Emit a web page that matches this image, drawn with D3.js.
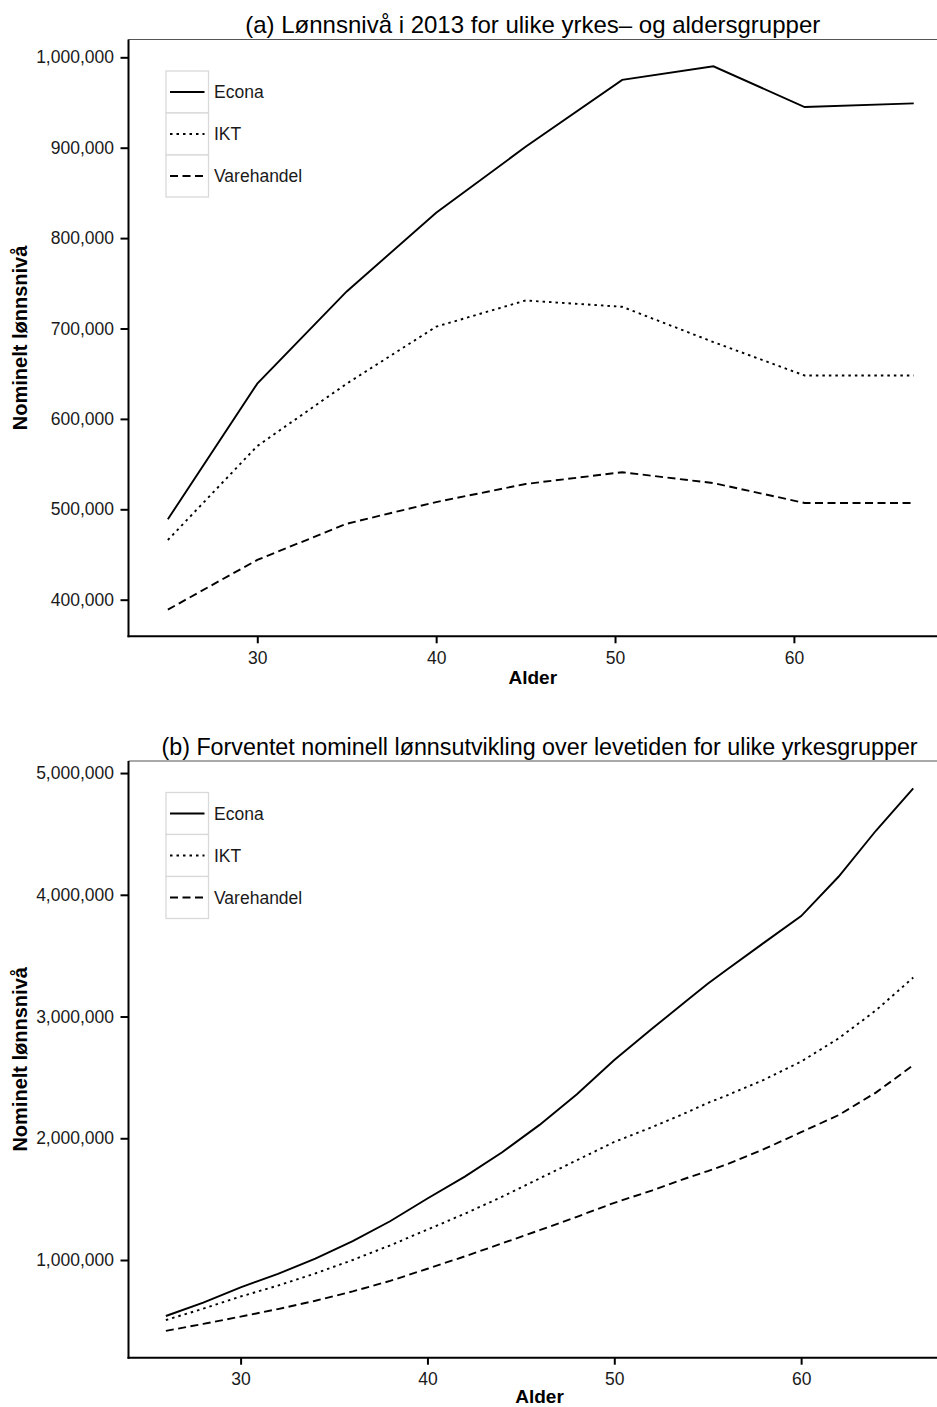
<!DOCTYPE html>
<html>
<head>
<meta charset="utf-8">
<script src="https://cdn.jsdelivr.net/npm/d3@7"></script>
<style>
  html, body { margin: 0; padding: 0; background: #fff; }
  svg { display: block; font-family: "Liberation Sans", Arial, sans-serif; }
</style>
</head>
<body>
<svg id="chart" width="937" height="1407"></svg>
<script>
// Series names and line types
const groups = ["Econa", "IKT", "Varehandel"];
const dashes = { "Econa": null, "IKT": "2.5,4", "Varehandel": "8,4.5" };

// (a) Wage level in 2013 by age group
const agesA = [25, 30, 35, 40, 45, 50.4, 55.5, 60.6, 66.7];
const econaA = [489000, 639000, 741000, 828000, 901000, 975000, 990000, 945000, 949000];
const iktA = [466000, 570000, 639000, 702000, 731000, 724000, 685000, 648000, 648000];
const handelA = [389000, 444000, 484000, 508000, 528000, 541000, 529000, 507000, 507000];

// (b) Expected nominal wage path over the working life
const agesB = [26, 28, 30, 32, 34, 36, 38, 40, 42, 44, 46, 48, 50, 52, 54, 55, 56, 58, 60, 62, 64, 66];
const econaB = [540000, 650000, 776000, 886000, 1011000, 1155000, 1318000, 1505000, 1685000, 1885000, 2110000, 2362000, 2643000, 2897000, 3146000, 3270000, 3383000, 3605000, 3825000, 4148000, 4526000, 4874000];
const iktB = [507000, 600000, 700000, 790000, 890000, 1000000, 1120000, 1250000, 1380000, 1520000, 1670000, 1820000, 1970000, 2090000, 2220000, 2290000, 2350000, 2480000, 2630000, 2820000, 3050000, 3320000];
const handelB = [418000, 475000, 535000, 597000, 665000, 742000, 828000, 928000, 1030000, 1137000, 1245000, 1355000, 1470000, 1570000, 1680000, 1730000, 1785000, 1910000, 2050000, 2190000, 2375000, 2600000];

// Axis ticks
const xTicks = [30, 40, 50, 60];
const yTicksA = [400000, 500000, 600000, 700000, 800000, 900000, 1000000];
const yTicksB = [1000000, 2000000, 3000000, 4000000, 5000000];

const titleA = "(a) Lønnsnivå i 2013 for ulike yrkes\u2013 og aldersgrupper";
const titleB = "(b) Forventet nominell lønnsutvikling over levetiden for ulike yrkesgrupper";
const xLabel = "Alder";
const yLabel = "Nominelt lønnsnivå";

const svg = d3.select("#chart");
const fmt = d3.format(",");

function panel(cfg) {
  const { top, bottom, left, right, xDomain, xRange, yDomain, ages, series, yTicks, title, titleY } = cfg;
  const g = svg.append("g");
  const x = d3.scaleLinear().domain(xDomain).range(xRange);
  const y = d3.scaleLinear().domain(yDomain).range([bottom, top]);
  const cx = (xRange[0] + xRange[1]) / 2;

  // panel frame top edge
  g.append("line").attr("x1", left).attr("x2", right).attr("y1", top).attr("y2", top)
    .attr("stroke", "#555").attr("stroke-width", 1.2);

  // axes
  const yAxis = g.append("g").attr("transform", `translate(${left},0)`)
    .call(d3.axisLeft(y).tickValues(yTicks).tickFormat(fmt).tickSize(8).tickPadding(6.5));
  const xAxis = g.append("g").attr("transform", `translate(0,${bottom})`)
    .call(d3.axisBottom(x).tickValues(xTicks).tickSize(7).tickPadding(4));
  [yAxis, xAxis].forEach(a => {
    a.select(".domain").remove();
    a.selectAll(".tick line").attr("stroke", "#000").attr("stroke-width", 2);
    a.selectAll(".tick text").attr("fill", "#1a1a1a").attr("font-size", 17.5)
      .attr("font-family", "Liberation Sans, Arial, sans-serif");
  });
  xAxis.selectAll(".tick text").attr("dy", "0.95em");
  g.append("line").attr("x1", left).attr("x2", left).attr("y1", top).attr("y2", bottom + 1)
    .attr("stroke", "#000").attr("stroke-width", 2);
  g.append("line").attr("x1", left - 1).attr("x2", right).attr("y1", bottom).attr("y2", bottom)
    .attr("stroke", "#000").attr("stroke-width", 2);

  // series lines
  const line = d3.line().x(d => x(d[0])).y(d => y(d[1]));
  groups.forEach((name, i) => {
    const pts = ages.map((a, j) => [a, series[i][j]]);
    g.append("path").datum(pts).attr("d", line)
      .attr("fill", "none").attr("stroke", "#000").attr("stroke-width", 1.9)
      .attr("stroke-dasharray", dashes[name]);
  });

  // legend
  const lg = g.append("g").attr("transform", `translate(166,${top + 31.5})`);
  groups.forEach((name, i) => {
    const row = lg.append("g").attr("transform", `translate(0,${i * 42})`);
    row.append("rect").attr("x", 0).attr("y", 0).attr("width", 42.5).attr("height", 42)
      .attr("fill", "#fff").attr("stroke", "#d9d9d9").attr("stroke-width", 1.3);
    row.append("line").attr("x1", 4).attr("x2", 38.5).attr("y1", 21).attr("y2", 21)
      .attr("stroke", "#000").attr("stroke-width", 1.9).attr("stroke-dasharray", dashes[name]);
    row.append("text").attr("x", 48).attr("y", 21).attr("dy", "0.35em")
      .attr("font-size", 17.5).attr("fill", "#1a1a1a").text(name);
  });

  // titles
  g.append("text").attr("x", cx).attr("y", titleY)
    .attr("text-anchor", "middle").attr("font-size", cfg.titleSize).attr("fill", "#000").text(title);
  g.append("text").attr("x", cx).attr("y", cfg.xLabelY)
    .attr("text-anchor", "middle").attr("font-size", 19).attr("font-weight", "bold").text(xLabel);
  g.append("text").attr("transform", `translate(27,${(top + bottom) / 2}) rotate(-90)`)
    .attr("text-anchor", "middle").attr("font-size", 20).attr("font-weight", "bold").text(yLabel);
}

panel({
  top: 39.5, bottom: 636.3, left: 128.5, right: 937,
  xDomain: [22.8, 68.0], xRange: [128.5, 937],
  yDomain: [359500, 1019700],
  ages: agesA, series: [econaA, iktA, handelA],
  yTicks: yTicksA, title: titleA, titleSize: 24, titleY: 32.5, xLabelY: 684
});

panel({
  top: 761, bottom: 1357.7, left: 128.5, right: 937,
  xDomain: [24, 68], xRange: [128.5, 950.6],
  yDomain: [197500, 5099000],
  ages: agesB, series: [econaB, iktB, handelB],
  yTicks: yTicksB, title: titleB, titleSize: 23.3, titleY: 754.5, xLabelY: 1403
});
</script>
</body>
</html>
